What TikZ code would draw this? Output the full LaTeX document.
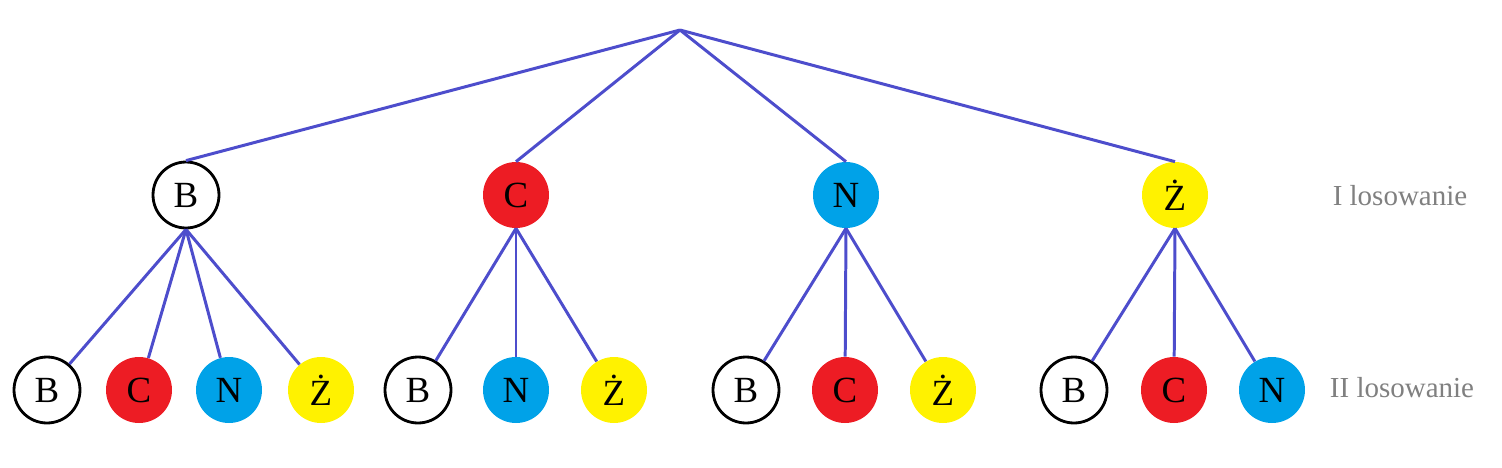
\documentclass[tikz,border=0pt]{standalone}
\usepackage{fontspec}
\setmainfont{Liberation Serif}
\definecolor{linia}{RGB}{77,77,204}
\definecolor{czerw}{RGB}{237,28,36}
\definecolor{nieb}{RGB}{0,162,232}
\definecolor{zolty}{RGB}{255,242,0}
\definecolor{szary}{RGB}{128,128,128}
\tikzset{
  kula/.style={circle, minimum size=1.32cm, inner sep=0pt, font=\fontsize{21}{24}\selectfont},
  kb/.style={kula, draw=black, line width=1.6pt, fill=white},
  kc/.style={kula, fill=czerw},
  kn/.style={kula, fill=nieb},
  kz/.style={kula, fill=zolty},
  galaz/.style={draw=linia, line width=1.7pt},
  opis/.style={text=szary, font=\fontsize{16.5}{19}\selectfont}
}
\begin{document}
\begin{tikzpicture}[x=0.02cm, y=-0.02cm]
        \useasboundingbox (0,0) rectangle (1502,467);
        \coordinate (root) at (680,30);
        \node[kb] (B) at (186,195) {B};
        \node[kc] (C) at (516,195) {C};
        \node[kn] (N) at (846,195) {N};
        \node[kz] (Z) at (1175,195) {Ż};
        \node[kb] (BB) at (47,390) {B};
        \node[kc] (BC) at (139,390) {C};
        \node[kn] (BN) at (229,390) {N};
        \node[kz] (BZ) at (321,390) {Ż};
        \node[kb] (CB) at (418,390) {B};
        \node[kn] (CN) at (516,390) {N};
        \node[kz] (CZ) at (614,390) {Ż};
        \node[kb] (NB) at (746,390) {B};
        \node[kc] (NC) at (845,390) {C};
        \node[kz] (NZ) at (943,390) {Ż};
        \node[kb] (ZB) at (1074,390) {B};
        \node[kc] (ZC) at (1174,390) {C};
        \node[kn] (ZN) at (1272,390) {N};
        \node[opis] (los1) at (1400,196) {I losowanie};
        \node[opis] (los2) at (1402,388) {II losowanie};
        \foreach \a in {B,C,N,Z}
            \draw[galaz] (root) -- (\a.north);
        \foreach \a in {BB,BC,BN,BZ}
            \draw[galaz] (B.south) -- (\a);
        \foreach \a in {CB,CN,CZ}
            \draw[galaz] (C.south) -- (\a);
        \foreach \a in {NB,NC,NZ}
            \draw[galaz] (N.south) -- (\a);
        \foreach \a in {ZB,ZC,ZN}
            \draw[galaz] (Z.south) -- (\a);
\end{tikzpicture}
\end{document}
